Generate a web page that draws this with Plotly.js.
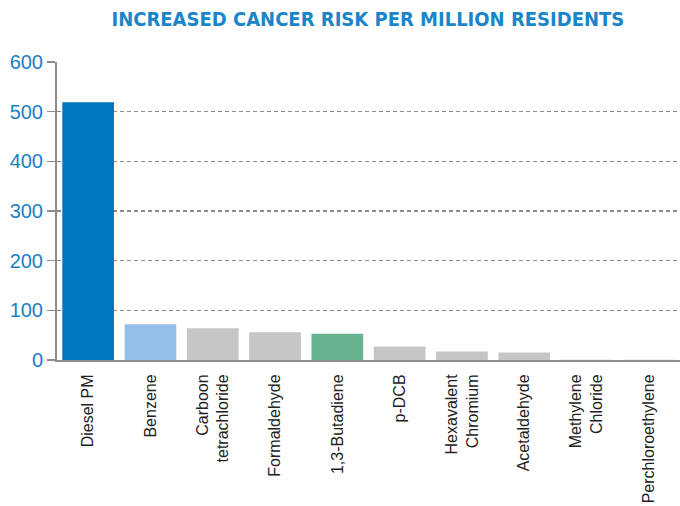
<!DOCTYPE html>
<html><head><meta charset="utf-8">
<script src="https://cdn.plot.ly/plotly-3.0.1.min.js"></script>
<style>html,body{margin:0;padding:0;background:#fff}#c{width:680px;height:506px}</style>
</head><body><div id="c"></div>
<script>
const categories = ["Diesel PM","Benzene","Carboon<br>tetrachloride","Formaldehyde","1,3-Butadiene","p-DCB","Hexavalent<br>Chromium","Acetaldehyde","Methylene<br>Chloride","Perchloroethylene"];
const values = [519, 72, 64, 56, 53, 27, 17, 15, 0.5, 0.3];
const colors = ["#0077c0","#94bfe6","#c6c6c6","#c6c6c6","#66b28f","#c6c6c6","#c6c6c6","#c6c6c6","#c6c6c6","#c6c6c6"];
const yTicks = [0,100,200,300,400,500,600];

Plotly.newPlot("c", [{
  type: "bar", x: categories, y: values,
  marker: {color: colors, line: {width: 0}},
  width: 0.83, hoverinfo: "none"
}], {
  width: 680, height: 506,
  margin: {l: 57, r: 0, t: 62, b: 146},
  paper_bgcolor: "#fff", plot_bgcolor: "#fff",
  title: {text: "<b>INCREASED CANCER RISK PER MILLION RESIDENTS</b>", x: 0.541, xanchor: "center", y: 0.963, yanchor: "middle",
    font: {family: "DejaVu Sans Condensed, Liberation Sans Narrow, sans-serif", size: 20, color: "#1a85c8"}},
  xaxis: {tickangle: -90, tickfont: {family: "Liberation Sans, Arial, sans-serif", size: 16, color: "#222"},
    showline: true, linecolor: "#8c8c8c", linewidth: 2, ticks: "outside", ticklen: 6, tickcolor: "rgba(0,0,0,0)", showgrid: false, automargin: false, fixedrange: true},
  yaxis: {range: [0, 600], tickvals: yTicks, ticktext: yTicks.map(String),
    tickfont: {family: "Liberation Sans, Arial, sans-serif", size: 20, color: "#1a80c4"},
    showline: true, linecolor: "#8c8c8c", linewidth: 2, ticks: "outside", ticklen: 8, tickcolor: "#8c8c8c", tickwidth: 1.5,
    showgrid: true, gridcolor: "#8a8a8a", griddash: "4px,3px", gridwidth: 1.5, zeroline: false, automargin: false, fixedrange: true},
  bargap: 0.17, showlegend: false
}, {displayModeBar: false, staticPlot: true});
</script></body></html>
